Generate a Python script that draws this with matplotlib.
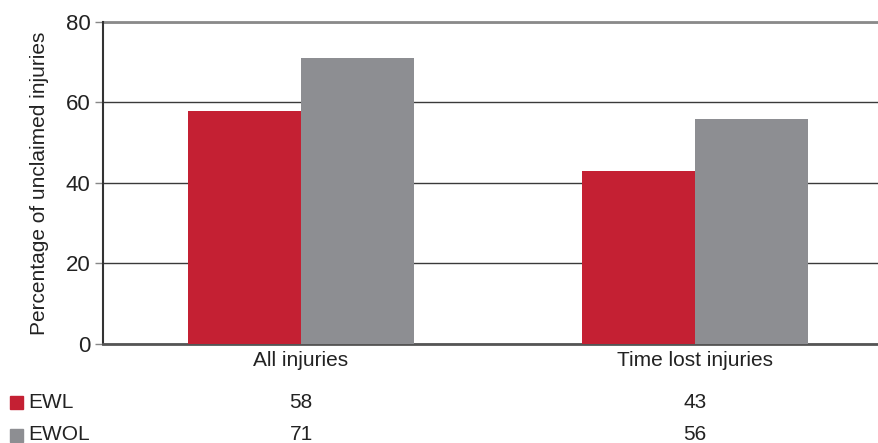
import matplotlib.pyplot as plt
import numpy as np
from matplotlib.patches import Rectangle
from matplotlib.transforms import blended_transform_factory

plt.rcParams['font.family'] = ['Liberation Sans', 'DejaVu Sans']

# unclaimed injuries (%)
categories = ['All injuries', 'Time lost injuries']
series_names = ['EWL', 'EWOL']
ewl = [58, 43]
ewol = [71, 56]
colors = ['#C42033', '#8D8E92']

fig = plt.figure(figsize=(8.79, 4.43), dpi=100)
ax = fig.add_axes([0.1172, 0.2235, 0.8828, 0.7269])

x = np.arange(len(categories))
w = 0.287
ax.bar(x - w / 2, ewl, w, color=colors[0], zorder=3)
ax.bar(x + w / 2, ewol, w, color=colors[1], zorder=3)

ax.set_xlim(-0.5025, 1.467)
ax.set_ylim(0, 80)
ax.set_yticks([0, 20, 40, 60, 80])
ax.yaxis.grid(True, color='#3a3a3a', linewidth=1.0, zorder=1)
ax.set_axisbelow(True)
ax.set_xticks(x)
ax.set_xticklabels(categories, fontsize=15, color='#222222')
ax.tick_params(axis='x', length=0, pad=5)
ax.tick_params(axis='y', length=6, width=1, color='#888888', labelsize=16,
               labelcolor='#222222', pad=3)

for s in ['top', 'right']:
    ax.spines[s].set_visible(False)
ax.spines['left'].set_color('#333333')
ax.spines['left'].set_linewidth(1.5)
ax.spines['bottom'].set_color('#555555')
ax.spines['bottom'].set_linewidth(2)
# top line at 80 drawn lighter
ax.axhline(80, color='#8a8a8a', linewidth=2, zorder=2, clip_on=False)

ax.set_ylabel('Percentage of unclaimed injuries', fontsize=15, color='#222222',
              labelpad=12)

# data table under the axis
tr = blended_transform_factory(ax.transData, fig.transFigure)
rows = [ewl, ewol]
row_y = [1 - 402 / 443, 1 - 435 / 443]
for name, vals, col, yy in zip(series_names, rows, colors, row_y):
    fig.patches.append(Rectangle((10 / 879, yy - 6.5 / 443), 13 / 879, 13 / 443,
                                 transform=fig.transFigure, color=col))
    fig.text(28 / 879, yy, name, fontsize=15, color='#222222', va='center')
    for xi, v in zip(x, vals):
        ax.text(xi, yy, str(v), transform=tr, ha='center', va='center',
                fontsize=15, color='#222222')

fig.savefig('out.png', dpi=100)
